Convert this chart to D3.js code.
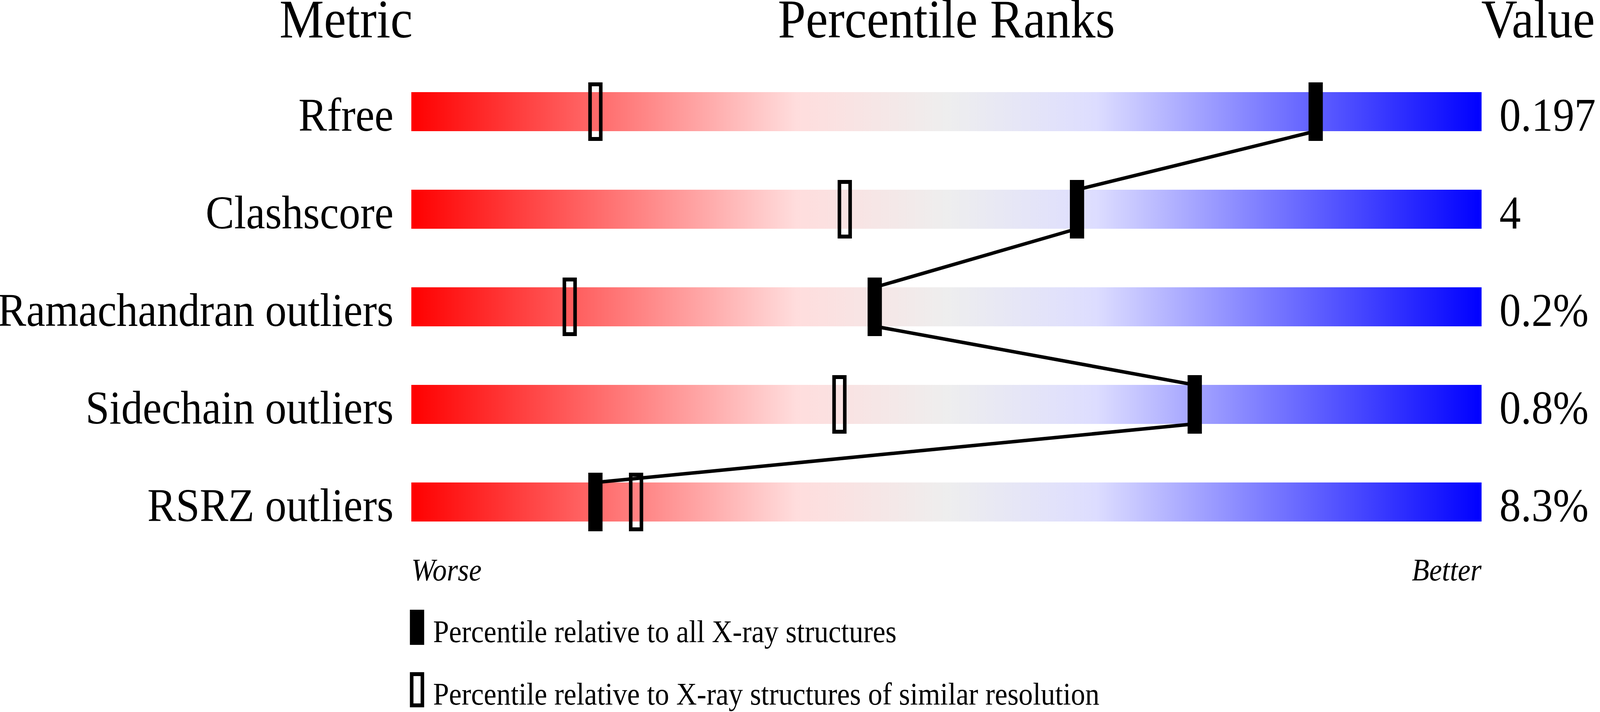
<!DOCTYPE html>
<html>
<head>
<meta charset="utf-8">
<script src="https://cdn.jsdelivr.net/npm/d3@7"></script>
<style>
  html, body { margin: 0; padding: 0; background: #fff; overflow: hidden; width: 100%; height: 100%; }
  #chart { width: 100vw; height: 100vh; }
  svg { display: block; }
  text { font-family: "Liberation Serif", "Times New Roman", "DejaVu Serif", serif; fill: #000; }
</style>
</head>
<body>
<div id="chart"></div>
<script>
// --- data ---
const metrics = ["Rfree", "Clashscore", "Ramachandran outliers", "Sidechain outliers", "RSRZ outliers"];
const values = ["0.197", "4", "0.2%", "0.8%", "8.3%"];
// percentile vs all X-ray structures (filled marker)
const pctAll = [84.5, 62.2, 43.3, 73.2, 17.2];
// percentile vs structures of similar resolution (open marker)
const pctSimilar = [17.2, 40.5, 14.8, 40.0, 21.0];
const headers = ["Metric", "Percentile Ranks", "Value"];
const legendLabels = [
  "Percentile relative to all X-ray structures",
  "Percentile relative to X-ray structures of similar resolution"
];

const width = 4485, height = 1824;

// drawn in a fixed 4485x1824 coordinate box, stretched to the window
const svg = d3.select("#chart").append("svg")
  .attr("width", "100%")
  .attr("height", "100%")
  .attr("viewBox", `0 0 ${width} ${height}`)
  .attr("preserveAspectRatio", "none");

svg.append("rect").attr("width", width).attr("height", height).attr("fill", "#fff");

// gradient red -> pale -> blue
const grad = svg.append("defs").append("linearGradient")
  .attr("id", "rank")
  .attr("x1", "0%").attr("x2", "100%").attr("y1", "0%").attr("y2", "0%");
[[0, "#ff0000"], [0.36, "#ffdddd"], [0.5, "#eeeeee"], [0.64, "#ddddff"], [1, "#0000ff"]]
  .forEach(([o, c]) => grad.append("stop").attr("offset", o).attr("stop-color", c));

const x = d3.scaleLinear().domain([0, 100]).range([1153, 4153]);
const y = d3.scaleBand().domain(metrics).range([236, 1336]).paddingInner(0.6).paddingOuter(0);
const bw = y.bandwidth();

const rows = metrics.map((m, i) => ({ m, v: values[i], all: pctAll[i], sim: pctSimilar[i] }));

// headers
svg.append("g").selectAll("text")
  .data(headers)
  .join("text")
  .attr("x", (d, i) => [970, (x(0) + x(100)) / 2, 4152][i])
  .attr("y", 96)
  .attr("text-anchor", (d, i) => ["middle", "middle", "start"][i])
  .attr("font-size", 140)
  .text(d => d);

// bars
svg.append("g").selectAll("rect")
  .data(rows)
  .join("rect")
  .attr("x", x(0))
  .attr("y", d => y(d.m))
  .attr("width", x(100) - x(0))
  .attr("height", bw)
  .attr("fill", "url(#rank)");

// metric names
svg.append("g").selectAll("text")
  .data(rows)
  .join("text")
  .attr("x", x(0) - 50)
  .attr("y", d => y(d.m) + bw - 1)
  .attr("text-anchor", "end")
  .attr("font-size", 120)
  .text(d => d.m);

// values
svg.append("g").selectAll("text")
  .data(rows)
  .join("text")
  .attr("x", x(100) + 50)
  .attr("y", d => y(d.m) + bw - 1)
  .attr("font-size", 120)
  .text(d => d.v);

// open markers (similar resolution)
svg.append("g").selectAll("rect")
  .data(rows)
  .join("rect")
  .attr("x", d => x(d.sim) - 15)
  .attr("y", d => y(d.m) - 20)
  .attr("width", 30)
  .attr("height", bw + 40)
  .attr("fill", "none")
  .attr("stroke", "#000")
  .attr("stroke-width", 10);

// connecting line between filled markers
const pts = [];
rows.forEach((d, i) => {
  if (i > 0) pts.push([x(d.all), y(d.m)]);
  if (i < rows.length - 1) pts.push([x(d.all), y(d.m) + bw]);
});
svg.append("path")
  .attr("d", d3.line()(pts))
  .attr("fill", "none")
  .attr("stroke", "#000")
  .attr("stroke-width", 9)
  .attr("stroke-linejoin", "round");

// filled markers (all structures)
svg.append("g").selectAll("rect")
  .data(rows)
  .join("rect")
  .attr("x", d => x(d.all) - 20)
  .attr("y", d => y(d.m) - 25)
  .attr("width", 40)
  .attr("height", bw + 50)
  .attr("fill", "#000");

// worse / better
svg.append("text")
  .attr("x", x(0)).attr("y", 1487)
  .attr("font-size", 80).attr("font-style", "italic")
  .text("Worse");
svg.append("text")
  .attr("x", x(100)).attr("y", 1487)
  .attr("font-size", 80).attr("font-style", "italic")
  .attr("text-anchor", "end")
  .text("Better");

// legend
const leg = svg.append("g");
leg.append("rect")
  .attr("x", 1149).attr("y", 1562).attr("width", 40).attr("height", 90)
  .attr("fill", "#000");
leg.append("rect")
  .attr("x", 1154).attr("y", 1727).attr("width", 30).attr("height", 80)
  .attr("fill", "none").attr("stroke", "#000").attr("stroke-width", 10);
leg.selectAll("text")
  .data(legendLabels)
  .join("text")
  .attr("x", 1214)
  .attr("y", (d, i) => [1645, 1805][i])
  .attr("font-size", 80)
  .text(d => d);
</script>
</body>
</html>
